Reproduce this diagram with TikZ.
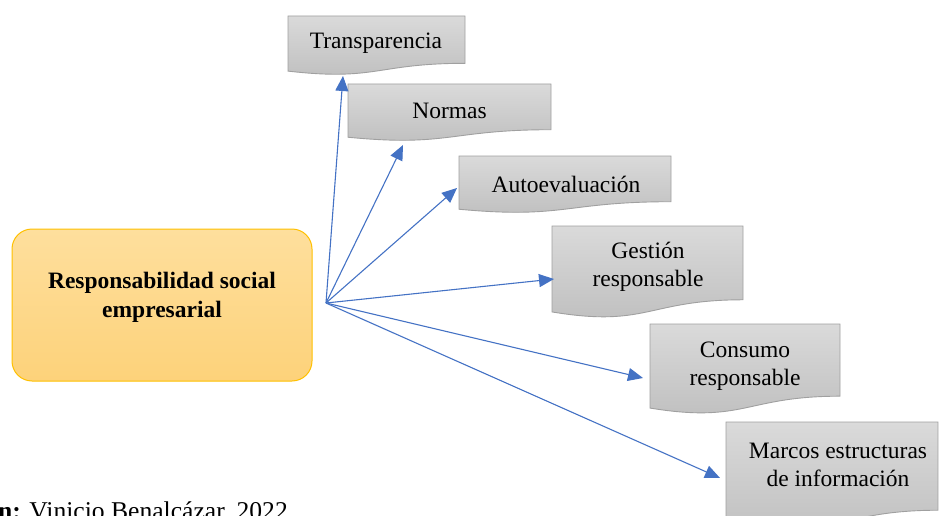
\documentclass[tikz,border=0pt]{standalone}
\usepackage{fontspec}
\setmainfont{Liberation Serif}
\usetikzlibrary{arrows.meta}
\definecolor{arrowblue}{RGB}{68,114,196}
\definecolor{docborder}{RGB}{160,160,160}
\definecolor{doctop}{RGB}{218,218,218}
\definecolor{docbot}{RGB}{190,190,190}
\definecolor{orgtop}{RGB}{254,223,157}
\definecolor{orgbot}{RGB}{253,210,122}
\definecolor{orgborder}{RGB}{255,192,0}
\newcommand\docshape[4]{%
  \path[docbox] (#1,#2) -- ({#1+#3},#2) -- ({#1+#3},{#2+0.802*#4})
    .. controls ({#1+0.5*#3},{#2+0.802*#4}) and ({#1+0.5*#3},{#2+1.107*#4}) ..
    (#1,{#2+0.934*#4}) -- cycle;}
\begin{document}
\begin{tikzpicture}[x=1pt,y=-1pt,
  docbox/.style={draw=docborder,line width=0.9pt,top color=doctop,bottom color=docbot},
  lbl/.style={font=\fontsize{23.5}{28}\selectfont,align=center,inner sep=0pt},
  arr/.style={draw=arrowblue,line width=1.1pt,-{Triangle[length=15pt,width=13pt]}},
  hubbox/.style={draw=orgborder,line width=1pt,rounded corners=20pt,top color=orgtop,bottom color=orgbot}]
\useasboundingbox (0,0) rectangle (939,516);
\clip (0,0) rectangle (939,516);
% central box
\path[hubbox] (12,229) rectangle (312,381);
\node[lbl,font=\fontsize{23.5}{29}\selectfont\bfseries] (rse) at (162,297) {Responsabilidad social\\empresarial};
% document shapes
\docshape{288}{16}{177}{59}
\node[lbl] (t1) at (376,43) {Transparencia};
\docshape{348}{84}{203}{57}
\node[lbl] (t2) at (449.5,111) {Normas};
\docshape{459}{156}{212}{57}
\node[lbl] (t3) at (566,184) {Autoevaluación};
\docshape{552}{226}{191}{92}
\node[lbl] (t4) at (648,267) {Gestión\\responsable};
\docshape{650}{324}{190}{90}
\node[lbl] (t5) at (745,366) {Consumo\\responsable};
\docshape{726}{422}{212}{110}
\node[lbl] (t6) at (838,465) {Marcos estructuras\\de información};
% connectors
\coordinate (hub) at (326,303);
\coordinate (a1) at (343,76);
\coordinate (a2) at (403,145);
\coordinate (a3) at (457,188);
\coordinate (a4) at (554,279);
\coordinate (a5) at (643,378);
\coordinate (a6) at (720,478);
\foreach \t in {a1,a2,a3,a4,a5,a6}{\draw[arr] (hub) -- (\t);}
% source line
\node[anchor=base west,inner sep=0pt,font=\fontsize{25.6}{30}\selectfont] (src) at (-2,519) {\textbf{n:} Vinicio Benalcázar, 2022};
\end{tikzpicture}
\end{document}
